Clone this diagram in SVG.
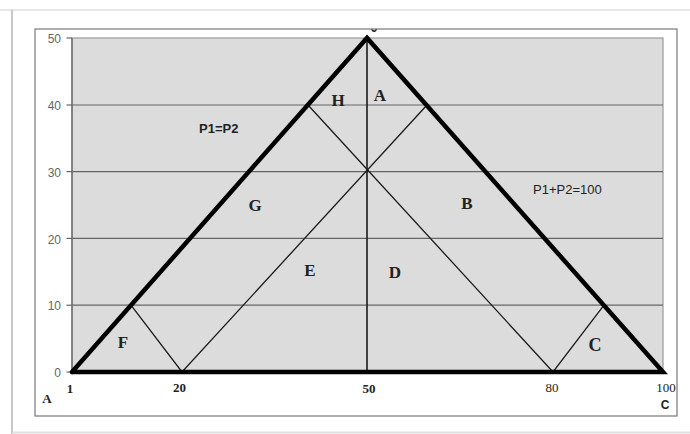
<svg xmlns="http://www.w3.org/2000/svg" width="690" height="434" viewBox="0 0 690 434">
<style>
.ylab{font-family:"Liberation Sans",Arial,sans-serif;font-size:12px;fill:#666;text-anchor:end}
.xlab{font-family:"Liberation Serif","Times New Roman",serif;font-size:13px;fill:#222;text-anchor:middle}
.reg{font-family:"Liberation Serif","Times New Roman",serif;font-size:17px;font-weight:bold;fill:#222;text-anchor:middle}
.note{font-family:"Liberation Sans",Arial,sans-serif;font-size:13px;fill:#222}
.grid{stroke:#666;stroke-width:1.2;fill:none}
.thin{stroke:#1a1a1a;stroke-width:1.3;fill:none}
.thick{stroke:#000;stroke-width:4.5;fill:none;stroke-linejoin:miter;stroke-linecap:round}
</style>
<rect width="690" height="434" fill="#fff"/>
<g id="frame">
<line x1="0" y1="10" x2="690" y2="10" stroke="#e6e6e6" stroke-width="2"/>
<line x1="12" y1="10" x2="12" y2="434" stroke="#c8c8c8" stroke-width="2"/>
<line x1="12" y1="432.5" x2="690" y2="432.5" stroke="#e0e0e0" stroke-width="2"/>
<rect x="35" y="29" width="642" height="387" fill="none" stroke="#777" stroke-width="1.2"/>
</g>
<g id="plot">
<rect x="72" y="38" width="591" height="334" fill="#dcdcdc" stroke="#9a9a9a" stroke-width="1.2"/>
<line class="grid" x1="72" y1="105" x2="663" y2="105"/>
<line class="grid" x1="72" y1="171.6" x2="663" y2="171.6"/>
<line class="grid" x1="72" y1="238.4" x2="663" y2="238.4"/>
<line class="grid" x1="72" y1="305.2" x2="663" y2="305.2"/>
<line x1="72" y1="38" x2="72" y2="372" stroke="#666" stroke-width="1.3"/>
<g stroke="#666" stroke-width="1.2">
<line x1="66.5" y1="38" x2="72" y2="38"/>
<line x1="66.5" y1="105" x2="72" y2="105"/>
<line x1="66.5" y1="171.6" x2="72" y2="171.6"/>
<line x1="66.5" y1="238.4" x2="72" y2="238.4"/>
<line x1="66.5" y1="305.2" x2="72" y2="305.2"/>
<line x1="66.5" y1="372" x2="72" y2="372"/>
</g>
</g>
<g id="y-axis-labels">
<text class="ylab" x="61" y="43">50</text>
<text class="ylab" x="61" y="110">40</text>
<text class="ylab" x="61" y="176.5">30</text>
<text class="ylab" x="61" y="243.5">20</text>
<text class="ylab" x="61" y="310">10</text>
<text class="ylab" x="61" y="377">0</text>
</g>
<g id="connectors">
<line class="thin" x1="367" y1="38" x2="367" y2="372" style="stroke-width:1.6"/>
<polyline class="thin" points="131,305.2 182,372 427,105"/>
<polyline class="thin" points="308,105 553,372 604,305.2"/>
<polyline class="thick" points="72,372 367,38 663,372 72,372"/>
</g>
<g id="x-axis-labels">
<text class="xlab" x="70" y="393" font-weight="bold">1</text>
<text class="xlab" x="179.5" y="392" font-weight="bold">20</text>
<text class="xlab" x="369" y="393" font-weight="bold">50</text>
<text class="xlab" x="552" y="392">80</text>
<text class="xlab" x="666" y="392">100</text>
</g>
<g id="vertex-A"><text class="xlab" x="47" y="403" font-weight="bold">A</text></g>
<g id="vertex-B"><text class="xlab" x="374" y="42" font-weight="bold" style="font-size:18px">˘</text></g>
<g id="vertex-C"><text x="665" y="409" text-anchor="middle" style="font-family:'Liberation Sans',Arial,sans-serif;font-size:12px;font-weight:bold;fill:#222">C</text></g>
<g id="region-A"><text class="reg" x="380" y="101">A</text></g>
<g id="region-H"><text class="reg" x="338" y="106">H</text></g>
<g id="region-G"><text class="reg" x="255" y="211">G</text></g>
<g id="region-B"><text class="reg" x="467" y="209">B</text></g>
<g id="region-E"><text class="reg" x="310" y="276">E</text></g>
<g id="region-D"><text class="reg" x="395" y="278">D</text></g>
<g id="region-F"><text class="reg" x="123" y="348">F</text></g>
<g id="region-C"><text class="reg" x="595" y="351" font-weight="normal" style="font-size:18px">C</text></g>
<g id="label-p1eqp2"><text class="note" x="199" y="133" font-weight="bold">P1=P2</text></g>
<g id="label-sum"><text class="note" x="533" y="194">P1+P2=100</text></g>
</svg>
